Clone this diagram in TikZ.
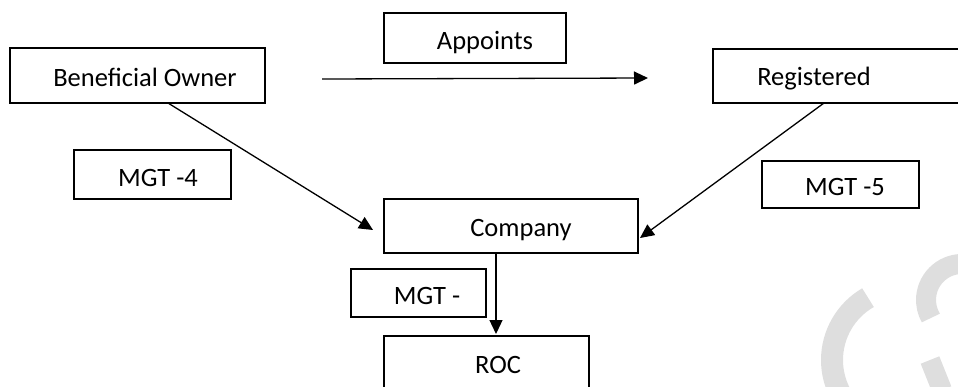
\documentclass[tikz,border=0pt]{standalone}
\usepackage{fontspec}
\setmainfont{Carlito}
\usetikzlibrary{arrows.meta}
\tikzset{
  box/.style={draw=black, line width=1.6pt, rectangle, inner sep=0pt},
  lbl/.style={anchor=base, inner sep=0pt, font=\fontsize{26.5}{30}\selectfont},
  conn/.style={line width=1.3pt, -{Triangle[length=14pt,width=13pt]}},
  wm/.style={line width=22pt, draw=black!13, line cap=butt}
}
\begin{document}
\begin{tikzpicture}[x=1pt,y=-1pt]
\useasboundingbox (0,0) rectangle (958,386);
\clip (0,0) rectangle (958,386);
% watermark
\draw[wm] (904,360) ++(240:72) arc[start angle=240, end angle=140, radius=72];
\draw[wm, line width=20pt] (962,300) ++(275:36) arc[start angle=275, end angle=150, radius=36];
\draw[wm, line width=20pt] (930,360) -- (942,390);
% boxes
\node[box, minimum width=255pt, minimum height=55pt] (bo) at (137.5,75.5) {};
\node[box, minimum width=182pt, minimum height=50pt] (ap) at (475,38) {};
\node[box, minimum width=260pt, minimum height=54pt] (rg) at (843,76) {};
\node[box, minimum width=157pt, minimum height=49pt] (m4) at (152.5,174.5) {};
\node[box, minimum width=157pt, minimum height=47pt] (m5) at (840.5,184.5) {};
\node[box, minimum width=254pt, minimum height=54pt] (co) at (511,226) {};
\node[box, minimum width=135pt, minimum height=48pt] (mg) at (418.5,293) {};
\node[box, minimum width=205pt, minimum height=64pt] (roc) at (486.5,368) {};
% labels
\node[lbl] (bo-t) at (145,86) {Beneficial Owner};
\node[lbl] (ap-t) at (485,49) {Appoints};
\node[lbl] (rg-t) at (814,85) {Registered};
\node[lbl] (m4-t) at (158,186) {MGT -4};
\node[lbl] (m5-t) at (845,195) {MGT -5};
\node[lbl] (co-t) at (521,236) {Company};
\node[lbl] (mg-t) at (427,304) {MGT -};
\node[lbl] (roc-t) at (498,373) {ROC};
% connector ends
\coordinate (a1) at (322,79);
\coordinate (a2) at (648,78);
\coordinate (b1) at (168,103);
\coordinate (b2) at (373,230);
\coordinate (r1) at (824,103);
\coordinate (r2) at (640,238);
\coordinate (c1) at (496,253);
\coordinate (c2) at (496,334);
\draw[conn] (a1) -- (a2);
\draw[conn] (b1) -- (b2);
\draw[conn] (r1) -- (r2);
\draw[conn] (c1) -- (c2);
\end{tikzpicture}
\end{document}
